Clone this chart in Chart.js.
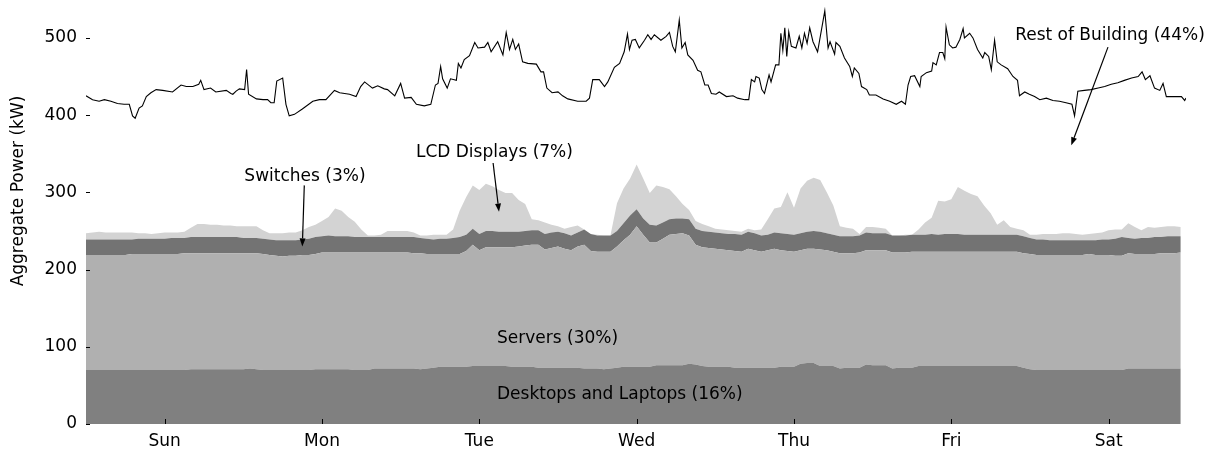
<!DOCTYPE html>
<html>
<head>
<meta charset="utf-8">
<script src="https://cdn.jsdelivr.net/npm/chart.js@4.4.1/dist/chart.umd.min.js"></script>
<style>
html,body{margin:0;padding:0;background:#fff;}
#wrap{width:1208px;height:450px;}
</style>
</head>
<body>
<div id="wrap"><canvas id="c" width="1208" height="450"></canvas></div>
<script>
// ---- data ----
const dayLabels = ["Sun","Mon","Tue","Wed","Thu","Fri","Sat"];
const dayTickHours = [12,36,60,84,108,132,156];
const yTickValues = [0,100,200,300,400,500];

// hourly grid for the stacked areas (upper boundary of each band, kW)
const desktopsTop = [70,70,70,70,70,70,70,70,70,70,70,70,70,70,70,70,71,71,71,71,71,71,71,71,71,72,71,70,70,70,70,70,70,70,70,71,71,71,71,71,71,70,70,70,72,72,72,72,72,72,72,71,72,73,74,74,74,74,74,75,75,75,75,75,75,74,74,74,74,73,73,73,73,73,73,73,72,72,72,71,72,73,74,74,74,74,74,76,76,76,76,76,78,77,75,74,74,74,74,73,73,73,73,73,73,73,74,74,74,78,79,79,75,75,75,72,73,73,73,77,76,76,76,72,73,73,73,75,75,75,75,75,75,75,75,75,75,75,75,75,75,75,75,73,71,70,70,70,70,70,70,70,70,70,70,70,70,70,70,72,72,72,72,72,72,72,72,72];
const serversTop = [219,219,219,219,219,219,219,220,220,220,220,220,220,220,220,221,221,221,221,221,221,221,221,221,221,221,221,220,219,218,217,218,218,219,219,220,222,222,222,222,222,222,222,222,222,222,222,222,222,222,221,221,220,220,220,220,220,220,224,232,225,229,229,229,229,229,230,231,232,232,226,228,230,227,225,230,232,224,223,223,223,230,238,245,256,245,235,235,240,245,246,247,244,232,229,228,227,226,225,224,223,227,225,223,225,227,225,224,223,225,227,227,226,225,223,221,221,221,222,225,225,225,225,222,222,222,223,223,223,223,223,223,223,223,223,223,223,223,223,223,223,223,223,221,220,219,219,219,219,219,219,219,219,220,219,219,219,218,218,221,220,220,220,220,221,221,221,222];
const switchesTop = [239,239,239,239,239,239,239,239,240,240,240,240,240,241,241,241,242,242,242,242,242,242,242,242,241,241,241,240,239,238,238,238,238,239,240,242,243,244,243,243,243,242,242,242,242,242,242,242,242,242,242,241,240,239,240,240,241,242,245,253,246,250,250,249,249,249,249,250,251,251,246,248,249,247,244,248,252,246,244,244,244,250,260,270,278,266,258,257,261,265,266,266,265,253,250,249,248,247,246,246,245,249,247,244,245,248,247,246,245,247,249,250,249,247,245,243,243,243,244,248,247,247,247,244,244,244,245,245,245,246,245,246,246,246,245,245,245,245,245,245,245,245,245,243,241,239,239,238,238,238,238,238,238,238,238,239,239,240,242,241,240,241,241,242,242,243,243,243];
const lcdTop = [247,248,249,248,248,248,248,248,247,247,246,247,248,248,248,249,254,259,259,258,258,257,257,256,256,256,256,251,247,247,247,248,248,251,255,258,263,268,279,276,268,262,252,244,244,245,250,250,250,250,248,244,244,245,245,245,252,276,294,309,303,311,308,303,299,299,290,285,265,264,261,258,256,253,255,257,252,246,245,244,244,286,305,318,336,318,299,309,307,304,295,285,277,263,259,256,253,252,251,250,249,253,251,252,265,279,281,300,280,305,315,319,316,300,283,256,254,253,246,255,255,254,253,244,244,245,245,252,261,267,289,288,291,307,302,298,295,283,273,258,264,255,253,251,245,245,246,246,246,247,247,246,245,246,247,248,251,252,252,260,255,251,255,254,255,256,256,255];

// building total line (hour, kW)
const lineHours = [0,1,2,2.8,3.8,4.8,5.8,6.6,7.1,7.5,8.1,8.6,9.2,9.9,10.7,11.7,13.2,14.5,15.3,16.3,17.2,17.5,18,19,19.8,21.4,22.1,22.4,22.9,23.4,24.2,24.5,24.8,26,27,27.7,28.2,28.7,29.1,30,30.5,31,31.8,33,34.6,35.6,36.6,37.9,38.7,40.2,41.2,41.9,
42.5,43.7,44.5,45.5,46,47.1,48,48.6,49.6,50.4,51.6,52.6,53.3,53.7,54.1,54.4,55.1,55.6,56.5,56.8,57.2,57.7,58.5,59.3,59.8,60.8,61.3,61.8,62.8,63.6,64.1,64.6,65.1,65.5,66,66.6,67.4,68.7,69.4,69.8,70.3,71.1,72,72.7,73.5,75,76.3,76.8,77.3,78.3,79.1,79.6,80.6,81.4,82.1,82.6,82.9,83.3,83.8,
84.4,85.2,85.7,86.2,86.7,87.7,88.5,89,89.5,89.9,90.5,90.9,91.4,91.8,92.6,93.3,93.8,94.4,94.9,95.4,96.1,96.6,97.7,98.7,99.4,100.5,101.1,101.5,102,102.2,102.7,103.1,103.5,104.2,104.5,105.2,105.7,106,106.3,106.6,106.9,107.2,107.6,108.3,108.8,109.2,109.6,110,110.4,110.9,111.6,112.7,113.2,113.5,114.2,114.4,115,115.7,116.5,116.9,117.2,117.9,118.3,119.1,119.5,120.5,121.6,122.6,123.6,124.4,125,125.4,125.8,
126.4,127.2,127.4,128.2,129,129.2,129.7,130.2,130.7,131,131.2,131.7,132.2,132.7,133.3,133.8,134,134.8,135.3,136,136.8,137.1,137.7,138.1,138.6,139,139.6,140.6,141.4,142.1,142.4,143.2,143.9,144.7,145.5,146.5,147.5,148.5,149.5,150.4,150.8,151.3,152.3,153.3,154.4,155.4,156.4,157.4,158.4,159.5,160.5,161.1,161.6,162.3,163,163.8,164.3,164.8,165.8,167.1,167.6,167.8];
const lineValues = [425,420,418,420,418,415,414,414,399,396,409,412,424,429,433,432,430,439,437,437,440,445,433,435,430,432,428,427,431,434,433,459,427,421,420,420,416,416,444,448,414,399,401,408,418,420,420,432,429,427,424,437,
443,435,438,434,433,425,441,422,423,414,412,414,439,441,463,447,435,447,445,467,461,472,477,494,487,488,494,482,495,478,507,485,498,485,492,469,467,466,456,456,435,429,430,425,421,418,418,422,446,446,437,443,462,467,482,505,485,497,498,
487,497,504,498,504,497,502,507,489,482,523,487,494,478,471,458,456,439,439,428,427,430,424,425,422,420,420,446,443,450,448,433,428,452,443,465,465,506,484,513,476,508,489,487,502,487,506,493,513,495,482,535,487,495,479,494,489,474,463,450,461,454,437,433,426,426,421,418,414,418,414,439,450,
451,437,450,455,457,468,465,481,481,473,514,491,487,488,498,512,500,506,500,485,474,481,476,459,497,469,465,460,450,445,425,430,427,424,420,422,419,418,416,414,399,431,432,433,435,437,440,442,445,448,450,456,446,451,435,432,441,424,424,424,419,422];

// annotations: [text, textHour, textValue, align, arrowFromHour, arrowFromValue, arrowToHour, arrowToValue]
const notes = [
  ["Switches (3%)", 33.4, 320, "center", 33.3, 309, 33.0, 230],
  ["LCD Displays (7%)", 62.3, 352, "center", 62.1, 338, 63.0, 275],
  ["Servers (30%)", 62.7, 110, "left", null, null, null, null],
  ["Desktops and Laptops (16%)", 62.7, 37.6, "left", null, null, null, null],
  ["Rest of Building (44%)", 156.2, 503, "center", 155.9, 488, 150.3, 361]
];

const hours = desktopsTop.map((_, i) => i);
const pts = (arr) => arr.map((v, i) => ({x: hours[i], y: v}));
const FONT = '"DejaVu Sans", sans-serif';

const decor = {
  id: 'decor',
  afterDatasetsDraw(chart) {
    const {ctx, scales: {x, y}, chartArea} = chart;
    ctx.save();
    ctx.strokeStyle = '#000';
    ctx.lineWidth = 1;
    // inward tick marks
    yTickValues.forEach(v => {
      const py = Math.round(y.getPixelForValue(v)) + 0.5;
      ctx.beginPath(); ctx.moveTo(chartArea.left, py); ctx.lineTo(chartArea.left + 4, py); ctx.stroke();
    });
    dayTickHours.forEach(h => {
      const px = Math.round(x.getPixelForValue(h)) + 0.5;
      ctx.beginPath(); ctx.moveTo(px, chartArea.bottom); ctx.lineTo(px, chartArea.bottom - 5); ctx.stroke();
    });
    // annotations
    ctx.font = '17px ' + FONT;
    ctx.fillStyle = '#000';
    ctx.textBaseline = 'middle';
    notes.forEach(n => {
      const [t, th, tv, al, fh, fv, ah, av] = n;
      ctx.textAlign = al;
      ctx.fillText(t, x.getPixelForValue(th), y.getPixelForValue(tv));
      if (fh !== null) {
        const x1 = x.getPixelForValue(fh), y1 = y.getPixelForValue(fv);
        const x2 = x.getPixelForValue(ah), y2 = y.getPixelForValue(av);
        const ang = Math.atan2(y2 - y1, x2 - x1);
        const L = 8, W = 3;
        const bx = x2 - L * Math.cos(ang), by = y2 - L * Math.sin(ang);
        ctx.lineWidth = 1.2;
        ctx.beginPath(); ctx.moveTo(x1, y1); ctx.lineTo(bx, by); ctx.stroke();
        ctx.beginPath();
        ctx.moveTo(x2, y2);
        ctx.lineTo(bx + W * Math.sin(ang), by - W * Math.cos(ang));
        ctx.lineTo(bx - W * Math.sin(ang), by + W * Math.cos(ang));
        ctx.closePath(); ctx.fill();
      }
    });
    // y axis title
    ctx.save();
    ctx.translate(19, 191);
    ctx.rotate(-Math.PI / 2);
    ctx.textAlign = 'center';
    ctx.fillText('Aggregate Power (kW)', 0, 0);
    ctx.restore();
    ctx.restore();
  }
};

const area = (label, data, color, fill) => ({
  label, data: pts(data), backgroundColor: color, borderColor: color,
  borderWidth: 0, pointRadius: 0, fill, tension: 0, order: 2
});

new Chart(document.getElementById('c'), {
  type: 'line',
  data: {
    datasets: [
      area('Desktops and Laptops', desktopsTop, '#808080', 'origin'),
      area('Servers', serversTop, '#b0b0b0', '-1'),
      area('Switches', switchesTop, '#737373', '-1'),
      area('LCD Displays', lcdTop, '#d3d3d3', '-1'),
      {
        label: 'Rest of Building',
        data: lineHours.map((h, i) => ({x: h, y: lineValues[i]})),
        borderColor: '#000', borderWidth: 1.1, pointRadius: 0, fill: false, tension: 0, order: 1
      }
    ]
  },
  options: {
    responsive: false,
    devicePixelRatio: 1,
    animation: false,
    layout: {padding: {left: 0, right: 22, top: 7, bottom: 0}},
    plugins: {legend: {display: false}, tooltip: {enabled: false}},
    scales: {
      x: {
        type: 'linear', min: 0, max: 167.8,
        grid: {display: false, drawTicks: false},
        border: {display: false},
        afterBuildTicks: s => { s.ticks = dayTickHours.map(v => ({value: v})); },
        afterFit: s => { s.height = 26; s.paddingLeft = 0; s.paddingRight = 0; },
        ticks: {
          padding: 7, color: '#000', font: {family: FONT, size: 17},
          maxRotation: 0, autoSkip: false,
          callback: (v) => dayLabels[dayTickHours.indexOf(v)]
        }
      },
      y: {
        type: 'linear', min: 0, max: 540,
        grid: {display: false, drawTicks: false},
        border: {display: false},
        afterBuildTicks: s => { s.ticks = yTickValues.map(v => ({value: v})); },
        afterFit: s => { s.width = 86; s.paddingTop = 0; s.paddingBottom = 0; },
        ticks: {padding: 9, color: '#000', font: {family: FONT, size: 17}}
      }
    }
  },
  plugins: [decor]
});
</script>
</body>
</html>
